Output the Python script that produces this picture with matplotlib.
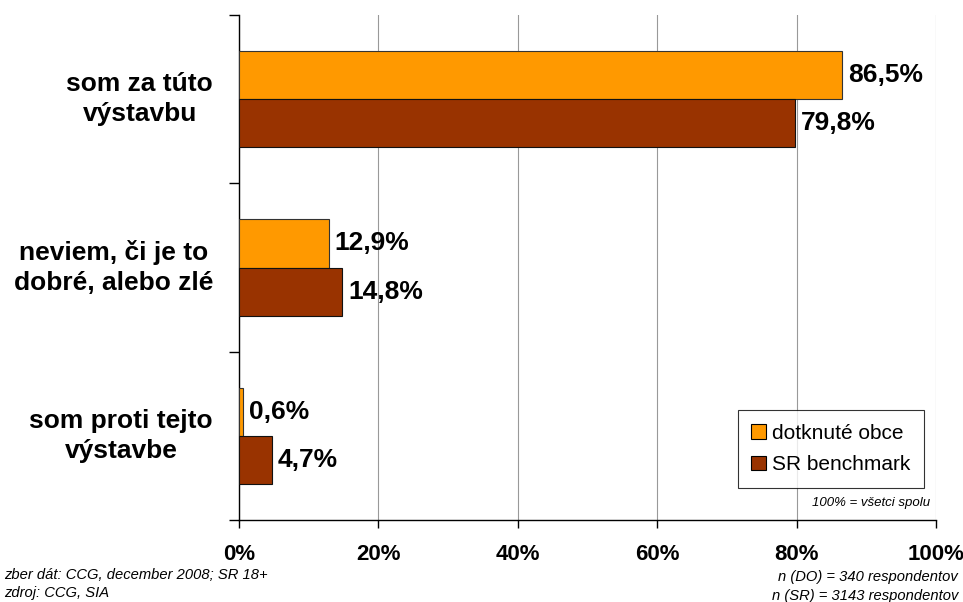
import matplotlib
matplotlib.use("Agg")
import matplotlib.pyplot as plt
from matplotlib.patches import Patch
import numpy as np

categories = ["som za túto\nvýstavbu", "neviem, či je to\ndobré, alebo zlé", "som proti tejto\nvýstavbe"]
dotknute = [86.5, 12.9, 0.6]
sr_bench = [79.8, 14.8, 4.7]
series_names = ["dotknuté obce", "SR benchmark"]
xticks = [0, 20, 40, 60, 80, 100]
xtick_labels = ["0%", "20%", "40%", "60%", "80%", "100%"]

FONT = ["Liberation Sans", "DejaVu Sans"]

fig = plt.figure(figsize=(9.63, 6.02), dpi=100)
ax = fig.add_axes([239/963, 82/602, 697/963, 505/602])

ypos = np.array([2, 1, 0])
h = 0.286
ax.barh(ypos + h/2, dotknute, height=h, color="#FF9900", edgecolor="#333333", linewidth=0.8, zorder=3)
ax.barh(ypos - h/2, sr_bench, height=h, color="#993300", edgecolor="#111111", linewidth=0.8, zorder=3)

def fmt(v):
    return f"{v:.1f}".replace(".", ",") + "%"

for y, v in zip(ypos + h/2, dotknute):
    ax.text(v + 0.85, y, fmt(v), va="center", ha="left", fontsize=19, fontweight="bold", family=FONT, zorder=4)
for y, v in zip(ypos - h/2, sr_bench):
    ax.text(v + 0.85, y, fmt(v), va="center", ha="left", fontsize=19, fontweight="bold", family=FONT, zorder=4)

ax.set_xlim(0, 100)
ax.set_ylim(-0.5, 2.5)
ax.set_xticks(xticks)
ax.set_xticklabels(xtick_labels, fontsize=16, fontweight="bold", family=FONT)
ax.tick_params(axis="x", direction="out", length=5.5, width=1, pad=12, color="black")
ax.set_yticks([-0.5, 0.5, 1.5, 2.5])
ax.set_yticklabels([])
ax.tick_params(axis="y", direction="out", length=7, width=1, color="black")
for y, c in zip(ypos, categories):
    ax.text(-26/697, y, c, transform=ax.get_yaxis_transform(), ha="right", va="center",
            multialignment="center", fontsize=19, fontweight="bold", family=FONT, linespacing=1.3)

ax.grid(axis="x", color="#999999", linewidth=0.8, zorder=0)
for s in ["top", "right"]:
    ax.spines[s].set_visible(False)
ax.spines["left"].set_color("black")
ax.spines["bottom"].set_color("black")
ax.spines["left"].set_linewidth(1.0)
ax.spines["bottom"].set_linewidth(1.0)

handles = [Patch(facecolor="#FF9900", edgecolor="black", linewidth=0.8),
           Patch(facecolor="#993300", edgecolor="black", linewidth=0.8)]
leg = ax.legend(handles, series_names, loc="lower right", bbox_to_anchor=(1 - 12/697, 32/505),
                borderaxespad=0, prop={"family": FONT, "size": 15}, frameon=True, fancybox=False,
                edgecolor="black", handlelength=0.7, handleheight=0.7, handletextpad=0.3,
                labelspacing=0.6, borderpad=0.65)
leg.get_frame().set_linewidth(0.8)
leg.set_zorder(5)

ax.text(1 - 6/697, 17/505, "100% = všetci spolu", transform=ax.transAxes, ha="right", va="center",
        fontsize=9.5, style="italic", family=FONT)

fig.text(4/963, 1 - 575/602, "zber dát: CCG, december 2008; SR 18+", ha="left", va="center",
         fontsize=10.6, style="italic", family=FONT)
fig.text(4/963, 1 - 593/602, "zdroj: CCG, SIA", ha="left", va="center",
         fontsize=10.6, style="italic", family=FONT)
fig.text(958/963, 1 - 577/602, "n (DO) = 340 respondentov", ha="right", va="center",
         fontsize=10.6, style="italic", family=FONT)
fig.text(958/963, 1 - 596/602, "n (SR) = 3143 respondentov", ha="right", va="center",
         fontsize=10.6, style="italic", family=FONT)

fig.savefig("out.png", dpi=100, facecolor="white")
